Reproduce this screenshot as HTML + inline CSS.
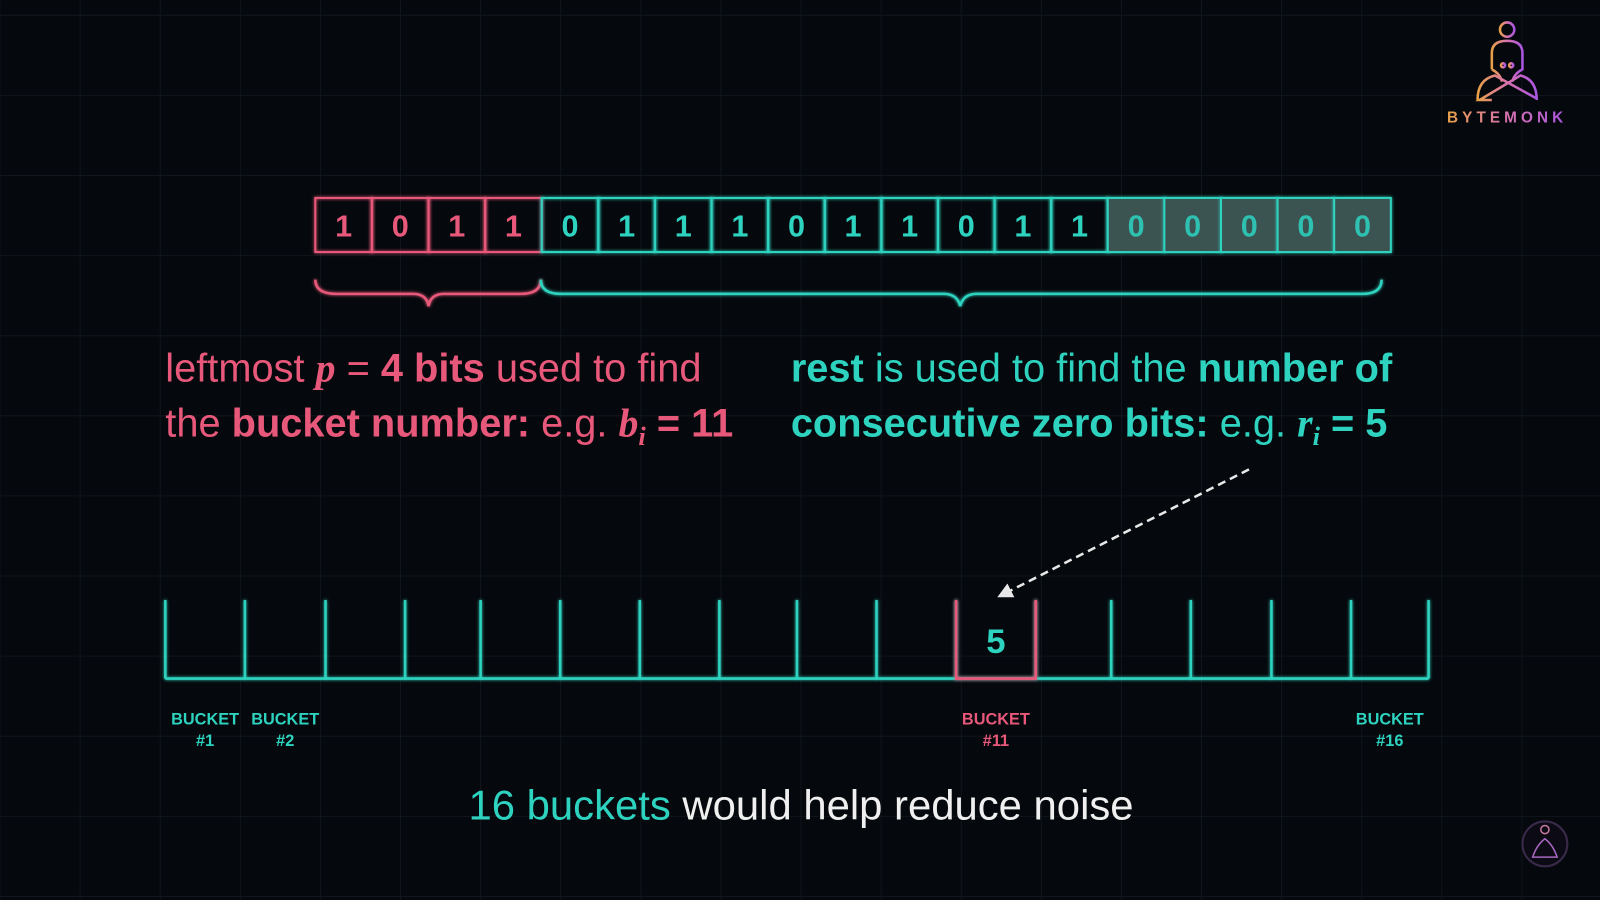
<!DOCTYPE html>
<html><head><meta charset="utf-8">
<style>
html,body{margin:0;padding:0;background:#05080c;}
svg{display:block}
text{font-family:"Liberation Sans",sans-serif;}
</style></head>
<body>
<svg id="chart" width="1600" height="900" viewBox="0 0 1568 882" xmlns="http://www.w3.org/2000/svg">
<defs>
<filter id="glow" filterUnits="userSpaceOnUse" x="0" y="0" width="1568" height="882"><feGaussianBlur stdDeviation="1.6" result="b"/><feMerge><feMergeNode in="b"/><feMergeNode in="SourceGraphic"/></feMerge></filter>
<linearGradient id="lg" x1="0" x2="1"><stop offset="0" stop-color="#e8a048"/><stop offset="0.5" stop-color="#d872b0"/><stop offset="1" stop-color="#a855e0"/></linearGradient>
<marker id="arr" viewBox="0 0 10 10" refX="8" refY="5" markerWidth="6" markerHeight="6" orient="auto"><path d="M0,0 L10,5 L0,10 z" fill="#e8e8e8"/></marker>
</defs>
<rect width="1568" height="882" fill="#05080c"/>
<g id="grid" stroke="#10161c" stroke-width="1"></g>

<g id="bits"></g>

<path d="M309,274 Q309,288 330,288 L405,288 Q418,288 420,300 Q422,288 435,288 L510,288 Q530,288 530,274" fill="none" stroke="#e8587a" stroke-width="2.5" filter="url(#glow)"/>
<path d="M530,274 Q530,288 550,288 L925,288 Q938,288 941,300 Q944,288 957,288 L1335,288 Q1354,288 1354,274" fill="none" stroke="#2ed3c0" stroke-width="2.5" filter="url(#glow)"/>

<text x="162" y="374" font-size="39" fill="#e8587a">leftmost <tspan font-family="Liberation Serif" font-style="italic" font-weight="bold">p</tspan> = <tspan font-weight="bold">4 bits</tspan> used to find</text>
<text x="162" y="428" font-size="39" fill="#e8587a">the <tspan font-weight="bold">bucket number:</tspan> e.g. <tspan font-family="Liberation Serif" font-style="italic" font-weight="bold">b<tspan font-size="26" dy="8">i</tspan></tspan><tspan dy="-8" font-weight="bold"> = 11</tspan></text>
<text x="775" y="374" font-size="39" fill="#2ed3c0"><tspan font-weight="bold">rest</tspan> is used to find the <tspan font-weight="bold">number of</tspan></text>
<text x="775" y="428" font-size="39" fill="#2ed3c0"><tspan font-weight="bold">consecutive zero bits:</tspan> e.g. <tspan font-family="Liberation Serif" font-style="italic" font-weight="bold">r<tspan font-size="26" dy="8">i</tspan></tspan><tspan dy="-8" font-weight="bold"> = 5</tspan></text>

<line x1="1224" y1="460" x2="980" y2="584" stroke="#e8e8e8" stroke-width="2.5" stroke-dasharray="8,5" marker-end="url(#arr)"/>

<g id="buckets"></g>

<text x="785" y="803" font-size="41" text-anchor="middle" fill="#f0f0f0"><tspan fill="#2ed3c0">16 buckets</tspan> would help reduce noise</text>

<g fill="none" stroke="url(#lg)" stroke-width="2.5">
<circle cx="1477" cy="29" r="7"/>
<path d="M1462,68 L1462,52 Q1462,40 1477,40 Q1492,40 1492,52 L1492,68 Q1484,72 1482,80 M1462,68 Q1470,72 1472,80"/>
<path d="M1448,98 Q1448,78 1465,74 L1505,96 M1506,98 Q1506,78 1490,74 L1450,98 L1462,98"/>
<circle cx="1473" cy="64" r="2"/><circle cx="1481" cy="64" r="2"/>
</g>
<text x="1477" y="120" font-size="15" font-weight="bold" text-anchor="middle" letter-spacing="4" fill="url(#lg)">BYTEMONK</text>
<circle cx="1514" cy="827" r="22" fill="#0c0a14" stroke="#3a2a4a" stroke-width="2"/>
<circle cx="1514" cy="813" r="4" fill="none" stroke="#c87aa0" stroke-width="1.5"/>
<path d="M1502,840 Q1506,828 1514,822 Q1522,828 1526,840 Z" fill="none" stroke="#a868c0" stroke-width="1.5"/>
</svg>
<script>
const bits = [1,0,1,1,0,1,1,1,0,1,1,0,1,1,0,0,0,0,0];
const prefixLength = 4;
const trailingZeros = 5;
const bucketValues = [null,null,null,null,null,null,null,null,null,null,5,null,null,null,null,null];
const bucketLabels = ["BUCKET #1","BUCKET #2","","","","","","","","","BUCKET #11","","","","","BUCKET #16"];
const bucketEdges = [162,240,319,397,471,549,627,705,781,859,937,1015,1089,1167,1246,1324,1400];

const NS = "http://www.w3.org/2000/svg";
const PINK = "#e8587a", TEAL = "#2ed3c0";
function mk(tag, attrs, parent){const e=document.createElementNS(NS,tag);for(const k in attrs)e.setAttribute(k,attrs[k]);parent.appendChild(e);return e;}

const grid = document.getElementById('grid');
for (let x=0; x<=1568; x+=78.5){const l=mk('line',{x1:x,y1:0,x2:x,y2:882},grid);

}
for (let y=15; y<=882; y+=78.5){const l=mk('line',{x1:0,y1:y,x2:1568,y2:y},grid);

}

const bitsG = document.getElementById('bits');
const bitX0 = 309, bitX1 = 1363, bitTop = 194, bitH = 53;
const cw = (bitX1 - bitX0) / bits.length;
const xBit = i => bitX0 + i*cw;
bits.forEach((b,i)=>{
  const isPrefix = i < prefixLength;
  const isZeroRun = i >= bits.length - trailingZeros;
  const col = isPrefix ? PINK : TEAL;
  const r = mk('rect',{x:xBit(i),y:bitTop,width:cw,height:bitH,fill:isZeroRun?'#3a5351':'none',stroke:col,'stroke-width':2,filter:'url(#glow)'},bitsG);
  
  
  const t = mk('text',{x:xBit(i)+cw/2,y:bitTop+38,'font-size':30,'font-weight':'bold','text-anchor':'middle',fill:isZeroRun?'#2ec0b0':col},bitsG);
  t.textContent = b;
  
  
});

const bg = document.getElementById('buckets');
const bTop = 588, bBot = 665;
const base = mk('line',{x1:bucketEdges[0],y1:bBot,x2:bucketEdges[bucketEdges.length-1],y2:bBot,stroke:TEAL,'stroke-width':2.5,filter:'url(#glow)'},bg);


bucketEdges.forEach((x,i)=>{
  const l = mk('line',{x1:x,y1:bTop,x2:x,y2:bBot,stroke:TEAL,'stroke-width':2.5,filter:'url(#glow)'},bg);
  
  
});
bucketValues.forEach((v,i)=>{
  const xa = bucketEdges[i], xb = bucketEdges[i+1], cx=(xa+xb)/2;
  if (v !== null){
    const p = mk('path',{d:`M${xa},${bTop} L${xa},${bBot} L${xb},${bBot} L${xb},${bTop}`,fill:'none',stroke:PINK,'stroke-width':2.5,filter:'url(#glow)'},bg);
    
    
    const t = mk('text',{x:cx,y:640,'font-size':34,'font-weight':'bold','text-anchor':'middle',fill:TEAL},bg);
    t.textContent = v;
    
    
  }
  if (bucketLabels[i]){
    const parts = bucketLabels[i].split(' ');
    const col = v !== null ? PINK : TEAL;
    const t1 = mk('text',{x:cx,y:710,'font-size':16,'font-weight':'bold','text-anchor':'middle',fill:col},bg);
    t1.textContent = parts[0];
    
    
    const t2 = mk('text',{x:cx,y:731,'font-size':16,'font-weight':'bold','text-anchor':'middle',fill:col},bg);
    t2.textContent = parts[1];
    
    
  }
});
</script>
</body></html>
